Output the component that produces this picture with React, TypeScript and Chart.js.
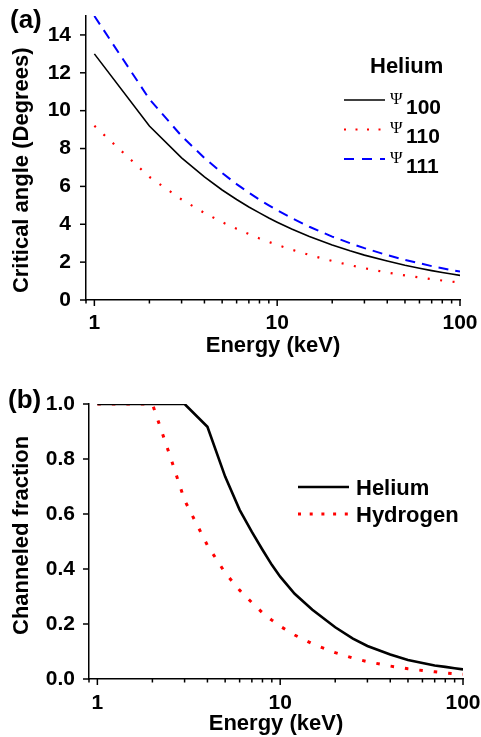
import React, { useEffect, useRef } from 'react';
import { Chart, registerables } from 'chart.js';

Chart.register(...registerables);

// ---------- Data (panel a) ----------
const energyA = [1, 2, 3, 4, 5, 6, 7, 8, 9, 10, 12, 15, 20, 25, 30, 40, 50, 60, 70, 80, 90, 100];
const psi100 = [13.0, 9.19, 7.51, 6.5, 5.81, 5.31, 4.91, 4.6, 4.33, 4.11, 3.75, 3.36, 2.91, 2.6, 2.37, 2.06, 1.84, 1.68, 1.55, 1.45, 1.37, 1.3];
const psi110 = [9.2, 6.5, 5.31, 4.6, 4.11, 3.76, 3.48, 3.25, 3.07, 2.91, 2.66, 2.38, 2.06, 1.84, 1.68, 1.45, 1.3, 1.19, 1.1, 1.03, 0.97, 0.92];
const psi111 = [15.0, 10.61, 8.66, 7.5, 6.71, 6.12, 5.67, 5.3, 5.0, 4.74, 4.33, 3.87, 3.35, 3.0, 2.74, 2.37, 2.12, 1.94, 1.79, 1.68, 1.58, 1.5];
const legendTitleA = 'Helium';
const psiSymbol = 'Ψ';
const psiLabels = ['100', '110', '111'];

// ---------- Data (panel b) ----------
const energyHe = [1, 2, 3, 4, 5, 6, 7, 8, 9, 10, 12, 15, 20, 25, 30, 40, 50, 60, 70, 80, 90, 100];
const fracHe = [1.0, 1.0, 1.0, 0.917, 0.736, 0.615, 0.535, 0.47, 0.415, 0.372, 0.31, 0.252, 0.188, 0.147, 0.12, 0.089, 0.069, 0.058, 0.049, 0.044, 0.039, 0.035];
const energyH = [1, 2, 2.5, 3, 4, 5, 6, 7, 8, 9, 10, 12, 15, 20, 25, 30, 40, 50, 60, 70, 80, 90, 100];
const fracH = [1.0, 1.0, 0.81, 0.65, 0.486, 0.386, 0.323, 0.278, 0.241, 0.214, 0.192, 0.16, 0.128, 0.096, 0.076, 0.063, 0.047, 0.037, 0.031, 0.026, 0.022, 0.019, 0.017];
const seriesNamesB = ['Helium', 'Hydrogen'];

// ---------- Axes ----------
const xTickValues = [0.9, 1, 2, 3, 4, 5, 6, 7, 8, 9, 10, 20, 30, 40, 50, 60, 70, 80, 90, 100];
const xTickLabels = [1, 10, 100];
const yTickLabelsA = [0, 2, 4, 6, 8, 10, 12, 14];
const yTickLabelsB = [0.0, 0.2, 0.4, 0.6, 0.8, 1.0];
const xTitle = 'Energy (keV)';
const yTitleA = 'Critical angle (Degrees)';
const yTitleB = 'Channeled fraction';
const panelA = '(a)';
const panelB = '(b)';

const FONT = '"Liberation Sans", Arial, sans-serif';

const tickMarks = {
  id: 'tickMarks',
  afterDraw(chart: any) {
    const ctx = chart.ctx;
    const xs = chart.scales.x;
    const ys = chart.scales.y;
    ctx.save();
    ctx.strokeStyle = '#000';
    ctx.lineWidth = 1.5;
    xs.ticks.forEach((t: any) => {
      const px = xs.getPixelForValue(t.value);
      const len = t.label !== '' && t.label != null ? 6 : 3.5;
      ctx.beginPath();
      ctx.moveTo(px, xs.top);
      ctx.lineTo(px, xs.top + len);
      ctx.stroke();
    });
    ys.ticks.forEach((t: any) => {
      const py = ys.getPixelForValue(t.value);
      const len = t.label !== '' && t.label != null ? 6 : 3.5;
      ctx.beginPath();
      ctx.moveTo(ys.right, py);
      ctx.lineTo(ys.right - len, py);
      ctx.stroke();
    });
    ctx.restore();
  },
};

function drawLine(ctx: any, x1: number, x2: number, y: number, color: string, width: number, dash: number[]) {
  ctx.save();
  ctx.strokeStyle = color;
  ctx.lineWidth = width;
  ctx.setLineDash(dash);
  ctx.beginPath();
  ctx.moveTo(x1, y);
  ctx.lineTo(x2, y);
  ctx.stroke();
  ctx.restore();
}

const legendA = {
  id: 'legendA',
  afterDraw(chart: any) {
    const ctx = chart.ctx;
    ctx.save();
    ctx.fillStyle = '#000';
    ctx.textAlign = 'left';
    ctx.textBaseline = 'alphabetic';
    ctx.font = `bold 26px ${FONT}`;
    ctx.fillText(panelA, 10, 27.5);
    ctx.font = `bold 22px ${FONT}`;
    ctx.fillText(legendTitleA, 370, 72.5);
    const rows = [100, 129.5, 159];
    chart.data.datasets.forEach((ds: any, i: number) => {
      const y = rows[i];
      drawLine(ctx, 344, i === 1 ? 381 : 385, y, ds.borderColor, ds.borderWidth, ds.legendDash || []);
      ctx.fillStyle = '#000';
      ctx.font = `17px "Liberation Serif", serif`;
      ctx.fillText(psiSymbol, 390, y + 3.5);
      ctx.font = `bold 21px ${FONT}`;
      ctx.fillText(psiLabels[i], 406, y + 13.5);
    });
    ctx.restore();
  },
};

const legendB = {
  id: 'legendB',
  afterDraw(chart: any) {
    const ctx = chart.ctx;
    ctx.save();
    ctx.fillStyle = '#000';
    ctx.textAlign = 'left';
    ctx.textBaseline = 'alphabetic';
    ctx.font = `bold 26px ${FONT}`;
    ctx.fillText(panelB, 8, 37.5);
    const rows = [117, 144];
    chart.data.datasets.forEach((ds: any, i: number) => {
      const y = rows[i];
      drawLine(ctx, 298, 349, y, ds.borderColor, ds.borderWidth, ds.legendDash || []);
      ctx.fillStyle = '#000';
      ctx.font = `bold 22px ${FONT}`;
      ctx.fillText(seriesNamesB[i], 356, y + 7.5);
    });
    ctx.restore();
  },
};

function xAxis(labelPad: number, height: number, titlePadBottom: number) {
  return {
    type: 'logarithmic',
    min: 0.9,
    max: 100,
    afterBuildTicks: (s: any) => {
      s.ticks = xTickValues.map((v) => ({ value: v }));
    },
    afterFit: (s: any) => {
      s.height = height;
      s.paddingLeft = 0;
      s.paddingRight = 0;
    },
    border: { display: true, color: '#000', width: 1.5 },
    grid: { display: true, drawOnChartArea: false, drawTicks: false },
    ticks: {
      autoSkip: false,
      maxRotation: 0,
      padding: labelPad,
      color: '#000',
      font: { family: FONT, size: 21, weight: 'bold' },
      callback: (v: any) => (xTickLabels.includes(Number(v)) ? String(v) : ''),
    },
    title: {
      display: true,
      text: xTitle,
      color: '#000',
      font: { family: FONT, size: 22, weight: 'bold' },
      padding: { top: 0, bottom: titlePadBottom },
    },
  };
}

function yFit(width: number) {
  return (s: any) => {
    s.width = width;
    s.paddingTop = 0;
    s.paddingBottom = 0;
  };
}

function makeConfigA(): any {
  return {
    type: 'line',
    data: {
      datasets: [
        {
          label: psiSymbol + psiLabels[0],
          data: energyA.map((x, i) => ({ x, y: psi100[i] })),
          borderColor: '#000000',
          borderWidth: 1.6,
          legendDash: [],
        },
        {
          label: psiSymbol + psiLabels[1],
          data: energyA.map((x, i) => ({ x, y: psi110[i] })),
          borderColor: '#ff0000',
          borderWidth: 2.2,
          borderDash: [2, 10.5],
          legendDash: [2, 9.5],
        },
        {
          label: psiSymbol + psiLabels[2],
          data: energyA.map((x, i) => ({ x, y: psi111[i] })),
          borderColor: '#0000ff',
          borderWidth: 2,
          borderDash: [10, 7],
          legendDash: [10, 8],
        },
      ],
    },
    options: {
      animation: false,
      responsive: false,
      devicePixelRatio: 1,
      layout: { padding: { top: 16, right: 21, left: 0, bottom: 0 } },
      elements: { point: { radius: 0 }, line: { tension: 0, fill: false } },
      plugins: { legend: { display: false }, tooltip: { enabled: false } },
      scales: {
        x: xAxis(11, 70, 11),
        y: {
          type: 'linear',
          min: 0,
          max: 15,
          afterFit: yFit(86),
          border: { display: true, color: '#000', width: 1.5 },
          grid: { display: true, drawOnChartArea: false, drawTicks: false },
          ticks: {
            stepSize: 1,
            padding: 15,
            color: '#000',
            font: { family: FONT, size: 21, weight: 'bold' },
            callback: (v: any) => (yTickLabelsA.includes(Number(v)) ? String(v) : ''),
          },
          title: {
            display: true,
            text: yTitleA + '    ',
            color: '#000',
            font: { family: FONT, size: 22, weight: 'bold' },
            padding: { top: 9, bottom: 0 },
          },
        },
      },
    },
    plugins: [tickMarks, legendA],
  };
}

function makeConfigB(): any {
  return {
    type: 'line',
    data: {
      datasets: [
        {
          label: seriesNamesB[0],
          data: energyHe.map((x, i) => ({ x, y: fracHe[i] })),
          borderColor: '#000000',
          borderWidth: 2.6,
          legendDash: [],
        },
        {
          label: seriesNamesB[1],
          data: energyH.map((x, i) => ({ x, y: fracH[i] })),
          borderColor: '#ff0000',
          borderWidth: 3,
          borderDash: [3.5, 11],
          legendDash: [3, 8.7],
        },
      ],
    },
    options: {
      animation: false,
      responsive: false,
      devicePixelRatio: 1,
      layout: { padding: { top: 34, right: 18, left: 0, bottom: 0 } },
      elements: { point: { radius: 0 }, line: { tension: 0, fill: false } },
      plugins: { legend: { display: false }, tooltip: { enabled: false } },
      scales: {
        x: xAxis(12, 58, 0),
        y: {
          type: 'linear',
          min: 0,
          max: 1,
          afterFit: yFit(89),
          border: { display: true, color: '#000', width: 1.5 },
          grid: { display: true, drawOnChartArea: false, drawTicks: false },
          ticks: {
            stepSize: 0.1,
            padding: 14,
            color: '#000',
            font: { family: FONT, size: 21, weight: 'bold' },
            callback: (v: any) => {
              const n = Math.round(Number(v) * 10) / 10;
              return yTickLabelsB.some((t) => Math.abs(t - n) < 1e-9) ? n.toFixed(1) : '';
            },
          },
          title: {
            display: true,
            text: '  ' + yTitleB,
            color: '#000',
            font: { family: FONT, size: 22, weight: 'bold' },
            padding: { top: 9, bottom: 0 },
          },
        },
      },
    },
    plugins: [tickMarks, legendB],
  };
}

export default function App() {
  const refA = useRef<HTMLCanvasElement>(null);
  const refB = useRef<HTMLCanvasElement>(null);
  useEffect(() => {
    const a = new Chart(refA.current as HTMLCanvasElement, makeConfigA());
    const b = new Chart(refB.current as HTMLCanvasElement, makeConfigB());
    return () => {
      a.destroy();
      b.destroy();
    };
  }, []);
  return (
    <div style={{ position: 'absolute', left: 0, top: 0, width: 481, height: 737, background: '#fff', overflow: 'hidden' }}>
      <canvas ref={refA} width={481} height={370} style={{ position: 'absolute', left: 0, top: 0, width: 481, height: 370 }} />
      <canvas ref={refB} width={481} height={367} style={{ position: 'absolute', left: 0, top: 370, width: 481, height: 367 }} />
    </div>
  );
}
